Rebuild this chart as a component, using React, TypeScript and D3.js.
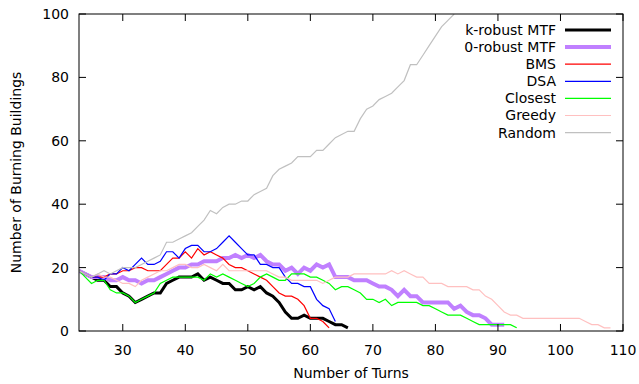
// Burning buildings per turn for seven fire-fighting strategies (gnuplot-style line chart).
import { useEffect } from "react";
import * as d3 from "d3";

const FIRST_TURN = 23;

const kRobust = [19, 18, 17, 16, 16, 14, 14, 12, 11, 9, 10, 11, 12, 12, 15, 16, 17, 17, 17, 18, 16, 17, 16, 15, 15, 13, 13, 14, 13, 14, 12, 11, 9, 6, 4, 4, 5, 4, 4, 4, 3, 2, 2, 1];
const zeroRobust = [19, 18, 17, 17, 17, 16, 16, 17, 16, 16, 15, 16, 16, 17, 18, 19, 20, 20, 21, 21, 22, 22, 22, 23, 23, 24, 23, 24, 23, 24, 22, 21, 21, 19, 20, 18, 20, 19, 21, 20, 21, 17, 17, 17, 16, 16, 16, 15, 14, 14, 13, 11, 13, 11, 11, 9, 9, 9, 9, 9, 7, 8, 6, 5, 5, 4, 2, 2, 2];
const bms = [19, 18, 17, 17, 17, 18, 18, 19, 19, 20, 20, 19, 19, 19, 21, 23, 23, 25, 23, 26, 24, 25, 24, 23, 21, 20, 20, 19, 18, 17, 16, 14, 12, 11, 11, 10, 8, 4, 4, 3, 1];
const dsa = [19, 18, 17, 17, 16, 18, 18, 20, 19, 21, 23, 21, 21, 22, 25, 25, 23, 26, 27, 27, 25, 25, 26, 28, 30, 28, 26, 24, 24, 21, 21, 20, 20, 17, 15, 15, 14, 14, 10, 8, 7, 3];
const closest = [19, 17, 15, 16, 16, 13, 12, 12, 11, 9, 10, 11, 12, 15, 16, 17, 17, 17, 17, 17, 16, 18, 17, 18, 17, 16, 15, 14, 15, 17, 18, 17, 16, 16, 18, 18, 18, 17, 17, 16, 15, 13, 14, 14, 13, 12, 10, 10, 9, 10, 8, 9, 9, 9, 9, 8, 8, 7, 6, 5, 5, 5, 4, 3, 2, 2, 2, 2, 2, 2, 1];
const greedy = [19, 18, 17, 18, 17, 17, 16, 15, 15, 14, 16, 17, 18, 19, 19, 20, 21, 21, 20, 20, 21, 20, 19, 21, 19, 19, 19, 19, 19, 19, 19, 18, 17, 17, 16, 16, 16, 16, 16, 15, 16, 17, 17, 17, 18, 18, 18, 18, 18, 18, 19, 18, 19, 18, 17, 17, 15, 15, 15, 14, 14, 14, 14, 13, 13, 11, 10, 8, 6, 5, 5, 4, 4, 4, 4, 4, 4, 4, 4, 4, 4, 3, 2, 2, 1, 1];
const random = [19, 18, 17, 18, 19, 18, 19, 20, 20, 20, 21, 22, 23, 24, 28, 28, 29, 30, 31, 33, 35, 38, 37, 39, 40, 40, 41, 41, 43, 44, 45, 49, 51, 52, 53, 55, 55, 55, 57, 57, 59, 61, 62, 63, 63, 67, 70, 71, 73, 74, 75, 77, 79, 84, 84, 87, 90, 93, 96, 98, 100];

const seriesNames = ["k-robust MTF", "0-robust MTF", "BMS", "DSA", "Closest", "Greedy", "Random"];
const seriesValues = [kRobust, zeroRobust, bms, dsa, closest, greedy, random];
const seriesColors = ["#000000", "#c080ff", "#ff0000", "#0000ff", "#00ff00", "#ffc0c0", "#c0c0c0"];
const seriesWidths = [3, 4, 1.2, 1.2, 1.2, 1.2, 1.2];

const xTicks = [30, 40, 50, 60, 70, 80, 90, 100, 110];
const yTicks = [0, 20, 40, 60, 80, 100];

const W = 639;
const H = 384;
const margin = { top: 14, right: 16, bottom: 53, left: 79 };
const FONT = "'DejaVu Sans', sans-serif";
const TICK = 7;

export default function App() {
  useEffect(() => {
    document.body.style.margin = "0";
  }, []);

  const x = d3.scaleLinear().domain([23, 110]).range([margin.left, W - margin.right]);
  const y = d3.scaleLinear().domain([0, 100]).range([H - margin.bottom, margin.top]);
  const line = d3
    .line<number>()
    .x((_, i) => x(FIRST_TURN + i))
    .y((v) => y(v));

  const [x0, x1] = x.range();
  const [y0, y1] = y.range();

  return (
    <svg width={W} height={H} style={{ display: "block", background: "#fff" }} fontFamily={FONT} fontSize={14}>
      <defs>
        <clipPath id="plot">
          <rect x={x0} y={y1} width={x1 - x0} height={y0 - y1} />
        </clipPath>
      </defs>

      <g clipPath="url(#plot)" fill="none" strokeLinejoin="miter">
        {seriesValues.map((vals, i) => (
          <path key={seriesNames[i]} d={line(vals) ?? ""} stroke={seriesColors[i]} strokeWidth={seriesWidths[i]} />
        ))}
      </g>

      {/* ticks, mirrored on all four sides like gnuplot */}
      <g stroke="#000" strokeWidth={1}>
        {xTicks.map((t) => (
          <g key={t}>
            <line x1={x(t)} x2={x(t)} y1={y0} y2={y0 - TICK} />
            <line x1={x(t)} x2={x(t)} y1={y1} y2={y1 + TICK} />
          </g>
        ))}
        {yTicks.map((t) => (
          <g key={t}>
            <line x1={x0} x2={x0 + TICK} y1={y(t)} y2={y(t)} />
            <line x1={x1} x2={x1 - TICK} y1={y(t)} y2={y(t)} />
          </g>
        ))}
        <rect x={x0} y={y1} width={x1 - x0} height={y0 - y1} fill="none" />
      </g>

      <g fill="#000">
        {xTicks.map((t) => (
          <text key={t} x={x(t)} y={y0 + 24} textAnchor="middle">
            {t}
          </text>
        ))}
        {yTicks.map((t) => (
          <text key={t} x={x0 - 10} y={y(t)} dy="0.35em" textAnchor="end">
            {t}
          </text>
        ))}
        <text x={(x0 + x1) / 2} y={H - 6} textAnchor="middle">
          Number of Turns
        </text>
        <text transform={`translate(21,${(y0 + y1) / 2}) rotate(-90)`} textAnchor="middle">
          Number of Burning Buildings
        </text>
      </g>

      <g>
        {seriesNames.map((name, i) => {
          const ly = 30 + i * 17.1;
          return (
            <g key={name}>
              <text x={556} y={ly} dy="0.35em" textAnchor="end">
                {name}
              </text>
              <line x1={565} x2={611} y1={ly} y2={ly} stroke={seriesColors[i]} strokeWidth={seriesWidths[i]} />
            </g>
          );
        })}
      </g>
    </svg>
  );
}
